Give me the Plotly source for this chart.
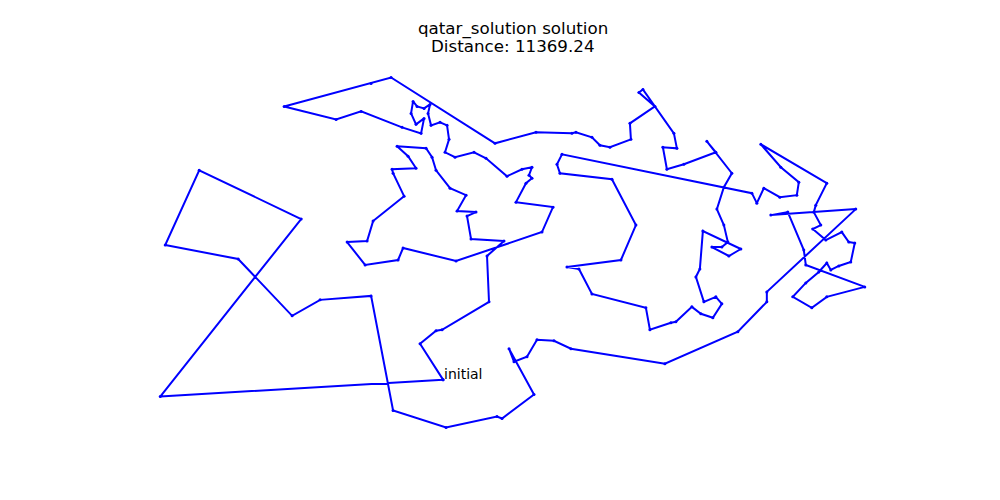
import plotly.graph_objects as go

# tour order (x to the right, y downwards as drawn)
tour_x = [444, 421, 437, 443, 490, 488, 505, 472, 468, 477, 458, 467, 451, 437, 433, 427,
          398, 409, 417, 393, 394, 405, 374, 368, 348, 366, 399, 404, 457, 543, 554, 517,
          527, 533, 530, 533, 523, 508, 487, 475, 456, 446, 450, 448, 441, 432, 429, 431,
          425, 418, 414, 412, 417, 425, 422, 403, 362, 337, 285, 372, 392, 496, 537, 573,
          577, 593, 601, 611, 632, 631, 656, 640, 644, 675, 678, 664, 668, 685, 717, 708,
          733, 725, 718, 725, 729, 723, 713, 730, 742, 704, 701, 697, 705, 717, 723, 714,
          702, 693, 677, 672, 651, 647, 593, 580, 568, 622, 637, 613, 561, 558, 563, 753,
          758, 765, 781, 798, 800, 782, 762, 828, 817, 815, 822, 814, 827, 843, 850, 856,
          852, 840, 832, 828, 820, 807, 794, 813, 828, 866, 807, 805, 789, 772, 857, 768,
          768, 739, 666, 572, 555, 538, 528, 515, 510, 535, 503, 498, 447, 394, 372, 321,
          293, 239, 166, 200, 302, 161]
tour_y = [380, 344, 331, 330, 302, 256, 241, 239, 216, 212, 211, 195, 188, 170, 157, 148,
          146, 156, 168, 169, 173, 196, 221, 241, 242, 265, 260, 248, 261, 232, 207, 202,
          183, 178, 175, 167, 169, 176, 158, 152, 157, 152, 139, 125, 122, 125, 113, 104,
          108, 106, 101, 113, 124, 118, 133, 127, 111, 119, 106, 83, 77, 143, 132, 133,
          132, 137, 145, 147, 139, 123, 106, 92, 89, 133, 148, 147, 169, 164, 152, 141,
          173, 187, 209, 225, 242, 247, 247, 256, 249, 231, 269, 277, 302, 297, 304, 318,
          314, 307, 322, 323, 330, 308, 294, 269, 267, 260, 225, 179, 173, 164, 154, 193,
          203, 188, 197, 195, 182, 167, 144, 183, 205, 212, 225, 229, 240, 232, 242, 243,
          262, 266, 270, 263, 272, 283, 297, 308, 297, 287, 265, 250, 212, 215, 209, 292,
          302, 332, 364, 349, 341, 340, 357, 362, 349, 395, 419, 417, 428, 411, 296, 300,
          316, 259, 245, 170, 219, 397]

title_lines = ["qatar_solution solution", "Distance: 11369.24"]
start_label = "initial"

# close the loop
xs = tour_x + tour_x[:1]
ys = tour_y + tour_y[:1]


def padded(vals, frac=0.05):
    lo, hi = min(vals), max(vals)
    pad = (hi - lo) * frac
    return [lo - pad, hi + pad]


fig = go.Figure()
fig.add_trace(go.Scatter(
    x=xs, y=ys, mode="lines+markers",
    line=dict(color="#0000ff", width=2),
    marker=dict(color="#0000ff", size=3),
    hoverinfo="skip", showlegend=False,
))

fig.add_annotation(x=tour_x[0], y=tour_y[0], text=start_label, showarrow=False,
                   xanchor="left", yanchor="bottom", yshift=-4, xshift=-1,
                   font=dict(family="DejaVu Sans", size=14, color="black"))

for i, line in enumerate(title_lines):
    fig.add_annotation(xref="paper", yref="paper", x=0.5, y=1.083 - i * 0.047,
                       text=line, showarrow=False, xanchor="center", yanchor="middle",
                       font=dict(family="DejaVu Sans", size=16.7, color="black"))

yr = padded(tour_y)
fig.update_xaxes(range=padded(tour_x), visible=False)
fig.update_yaxes(range=[yr[1], yr[0]], visible=False)
# page body adds ~8px, so the margins are pulled in by that much
fig.update_layout(
    width=1000, height=500,
    margin=dict(l=117, r=108, t=52, b=63),
    plot_bgcolor="white", paper_bgcolor="white",
    font=dict(family="DejaVu Sans"),
)

fig.write_html("out.html")
